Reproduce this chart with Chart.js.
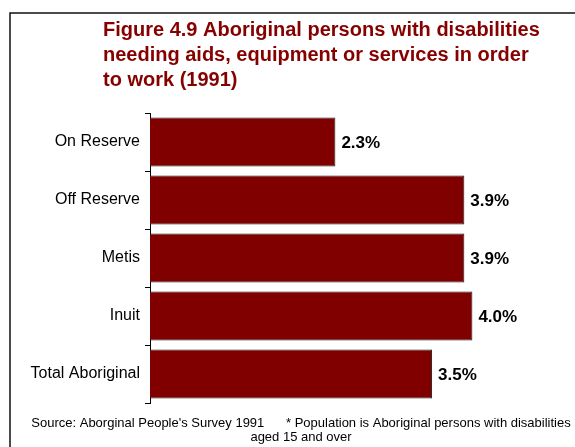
<!DOCTYPE html>
<html>
<head>
<meta charset="utf-8">
<script src="https://cdn.jsdelivr.net/npm/chart.js@4/dist/chart.umd.min.js"></script>
<style>
  body { margin: 0; background: #fff; }
  canvas { display: block; }
</style>
</head>
<body>
<canvas id="chart" width="575" height="447"></canvas>
<script>
// data
let categories = ["On Reserve", "Off Reserve", "Metis", "Inuit", "Total Aboriginal"]
let percentNeedingAids = [2.3, 3.9, 3.9, 4.0, 3.5]

let titleLines = [
    "Figure 4.9 Aboriginal persons with disabilities",
    "needing aids, equipment or services in order",
    "to work (1991)"
]
let footLines = [
    "Source: Aborginal People's Survey 1991      * Population is Aboriginal persons with disabilities",
    "aged 15 and over"
]

let fontFamily = "'Liberation Sans', Arial, Helvetica, sans-serif"

// frame, title and footnote drawn straight onto the canvas
let decorPlugin = {
    id: 'decor',
    beforeDraw: function (chart) {
        let ctx = chart.ctx
        ctx.save()
        ctx.fillStyle = '#fff'
        ctx.fillRect(0, 0, chart.width, chart.height)

        ctx.strokeStyle = '#111'
        ctx.lineWidth = 1.5
        ctx.beginPath()
        ctx.moveTo(10, chart.height)
        ctx.lineTo(10, 13)
        ctx.lineTo(chart.width, 13)
        ctx.stroke()

        ctx.fillStyle = '#860000'
        ctx.font = "bold 20px " + fontFamily
        ctx.textAlign = 'left'
        ctx.textBaseline = 'alphabetic'
        for (let i = 0; i < titleLines.length; i++) {
            ctx.fillText(titleLines[i], 103, 36 + i * 25)
        }

        ctx.fillStyle = '#000'
        ctx.font = "13px " + fontFamily
        ctx.textAlign = 'center'
        ctx.fillText(footLines[0], 301, 427)
        ctx.fillText(footLines[1], 301, 441)
        ctx.restore()
    }
}

// value labels at the end of each bar
let valueLabelPlugin = {
    id: 'valueLabels',
    afterDatasetsDraw: function (chart) {
        let ctx = chart.ctx
        let meta = chart.getDatasetMeta(0)
        ctx.save()
        ctx.fillStyle = '#000'
        ctx.font = "bold 17px " + fontFamily
        ctx.textAlign = 'left'
        ctx.textBaseline = 'middle'
        meta.data.forEach(function (bar, i) {
            let value = chart.data.datasets[0].data[i]
            ctx.fillText(value.toFixed(1) + '%', bar.x + 6, bar.y + 1)
        })
        ctx.restore()
    }
}

let ctx = document.getElementById("chart")

let chart = new Chart(ctx, {
    type: 'bar',
    data: {
        labels: categories,
        datasets: [{
            data: percentNeedingAids,
            backgroundColor: '#800000',
            borderColor: '#1a1a1a',
            borderWidth: 1,
            categoryPercentage: 1.0,
            barPercentage: 0.845
        }]
    },
    options: {
        indexAxis: 'y',
        responsive: false,
        animation: false,
        layout: {
            padding: { left: 0, right: 22, top: 113, bottom: 44 }
        },
        scales: {
            x: {
                display: false,
                min: 0,
                max: 5
            },
            y: {
                grid: {
                    display: true,
                    drawOnChartArea: false,
                    offset: true,
                    tickLength: 5,
                    color: '#000'
                },
                border: {
                    display: true,
                    color: '#000',
                    width: 1
                },
                ticks: {
                    color: '#000',
                    padding: 5,
                    font: { family: fontFamily, size: 16 }
                },
                afterFit: function (scale) {
                    scale.width = 150
                }
            }
        },
        plugins: {
            legend: { display: false },
            tooltip: { enabled: false }
        }
    },
    plugins: [decorPlugin, valueLabelPlugin]
})
</script>
</body>
</html>
